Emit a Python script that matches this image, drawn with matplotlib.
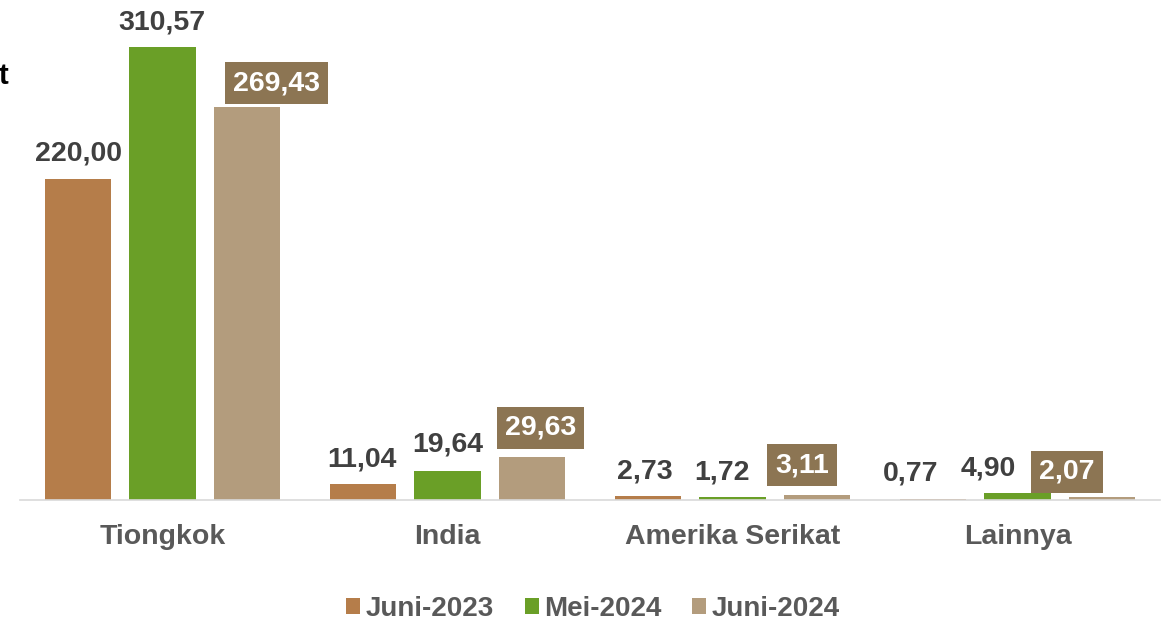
import matplotlib
matplotlib.use("Agg")
import matplotlib.pyplot as plt
import numpy as np

categories = ["Tiongkok", "India", "Amerika Serikat", "Lainnya"]
series_names = ["Juni-2023", "Mei-2024", "Juni-2024"]
juni_2023 = [220.00, 11.04, 2.73, 0.77]
mei_2024 = [310.57, 19.64, 1.72, 4.90]
juni_2024 = [269.43, 29.63, 3.11, 2.07]
colors = ["#B57D4A", "#6A9F27", "#B39C7D"]
box_color = "#8C7553"

# label placement offsets in pixels (dx, dy) per series / category (styling)
label_offsets = [
    [(0, 26), (-1, 24), (-3, 25), (-23, 25)],
    [(-1, 25), (0, 27), (-10, 25), (-29, 24)],
    [(30, 24), (9, 29), (-15, 30), (-35, 25)],
]

plt.rcParams['font.family'] = ['Liberation Sans', 'DejaVu Sans']

fig = plt.figure(figsize=(11.66, 6.2), dpi=100)
ax = fig.add_axes([20/1166, 120/620, 1140/1166, 481/620])

x = np.arange(len(categories))
width = 0.232
step = 0.296
all_series = [juni_2023, mei_2024, juni_2024]
handles = []
for i, (vals, c, name) in enumerate(zip(all_series, colors, series_names)):
    pos = x + (i - 1) * step
    b = ax.bar(pos, vals, width=width, color=c, label=name)
    handles.append(b)
    for j, (p, v) in enumerate(zip(pos, vals)):
        txt = f"{v:.2f}".replace(".", ",")
        off = label_offsets[i][j]
        if i == 2:
            ax.annotate(txt, (p, v), xytext=off, textcoords="offset pixels",
                        ha="center", va="center", fontsize=20.5, fontweight="bold",
                        color="white",
                        bbox=dict(boxstyle="square,pad=0.28", fc=box_color, ec="none"))
        else:
            ax.annotate(txt, (p, v), xytext=off, textcoords="offset pixels",
                        ha="center", va="center", fontsize=20.5, fontweight="bold",
                        color="#404040")

ax.set_xlim(-0.5, len(categories) - 0.5)
ax.set_ylim(0, 330)
ax.set_xticks(x)
ax.set_xticklabels(categories, fontsize=20.5, fontweight="bold", color="#595959")
ax.tick_params(axis="x", length=0, pad=17)
ax.set_yticks([])
for s in ["top", "right", "left"]:
    ax.spines[s].set_visible(False)
ax.spines["bottom"].set_color("#D9D9D9")
ax.spines["bottom"].set_linewidth(1.2)

fig.text(-1/1166, 1 - 76/620, "t", fontsize=21, fontweight="bold", color="black",
         ha="left", va="center")

leg = fig.legend(handles=handles, labels=series_names, loc="center",
                 bbox_to_anchor=(593/1166, 1 - 609/620), ncol=3, frameon=False,
                 prop=dict(size=20, weight="bold"), handlelength=0.5,
                 handleheight=0.5, handletextpad=0.2, columnspacing=1.1)
for t in leg.get_texts():
    t.set_color("#595959")

fig.savefig("out.png", dpi=100)
